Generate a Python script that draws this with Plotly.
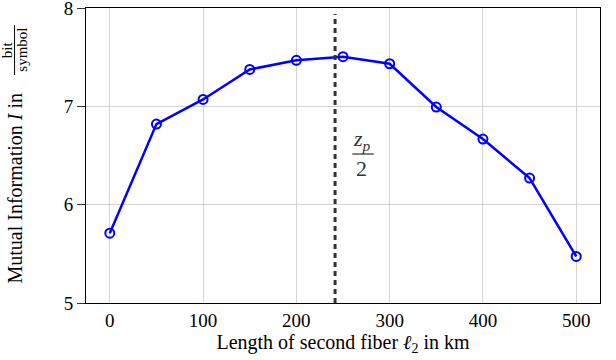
import plotly.graph_objects as go

# fiber length l2 in km and mutual information in bit/symbol
length_km = [0, 50, 100, 150, 200, 250, 300, 350, 400, 450, 500]
mutual_info = [5.71, 6.82, 7.07, 7.375, 7.468, 7.505, 7.433, 6.993, 6.667, 6.27, 5.474]

zp_half = 241.5  # position of the dashed marker z_p/2

x_ticks = [0, 100, 200, 300, 400, 500]
y_ticks = [5, 6, 7, 8]

FONT = "Liberation Serif"

fig = go.Figure()

fig.add_trace(go.Scatter(
    x=length_km, y=mutual_info,
    mode="lines+markers",
    line=dict(color="#0000ff", width=2.5),
    marker=dict(symbol="circle-open", size=9, color="#0000ff", line=dict(width=2, color="#0000ff")),
    showlegend=False,
))

# dashed vertical line at z_p/2
fig.add_shape(type="line", x0=zp_half, x1=zp_half, y0=5, y1=7.94,
              line=dict(color="#333333", width=3, dash="5px,4px"))

# z_p / 2 label as a stacked fraction
fig.add_annotation(x=270, y=6.66, text="<i>z<sub>p</sub></i>", showarrow=False,
                   font=dict(family=FONT, size=22, color="#333333"))
fig.add_shape(type="line", x0=260, x1=283, y0=6.515, y1=6.515,
              line=dict(color="#333333", width=1.2))
fig.add_annotation(x=270, y=6.37, text="2", showarrow=False,
                   font=dict(family=FONT, size=22, color="#333333"))

# y axis title: "Mutual Information I in bit/symbol" with a stacked fraction
fig.add_annotation(xref="paper", yref="paper", x=-0.139, y=0.39,
                   text="Mutual Information <i>I</i> in", textangle=-90, showarrow=False,
                   xanchor="center", yanchor="middle",
                   font=dict(family=FONT, size=20, color="black"))
fig.add_annotation(xref="paper", yref="paper", x=-0.153, y=0.858,
                   text="bit", textangle=-90, showarrow=False,
                   xanchor="center", yanchor="middle",
                   font=dict(family=FONT, size=15, color="black"))
fig.add_annotation(xref="paper", yref="paper", x=-0.125, y=0.858,
                   text="symbol", textangle=-90, showarrow=False,
                   xanchor="center", yanchor="middle",
                   font=dict(family=FONT, size=15, color="black"))
fig.add_shape(type="line", xref="paper", yref="paper", x0=-0.139, x1=-0.139, y0=0.773, y1=0.942,
              line=dict(color="black", width=1))

fig.update_layout(
    width=616, height=360,
    margin=dict(l=85.5, r=15.5, t=8, b=57, autoexpand=False),
    plot_bgcolor="white", paper_bgcolor="white",
    font=dict(family=FONT, size=19, color="black"),
    xaxis=dict(
        range=[-25.5, 525.5], tickvals=x_ticks, automargin=False,
        showgrid=True, gridcolor="#d3d3d3", gridwidth=1,
        showline=True, linecolor="black", linewidth=1, mirror=True,
        ticks="", zeroline=False, ticklabeloverflow="allow",
        title=dict(text="Length of second fiber <i>ℓ</i><sub>2</sub> in km", standoff=2,
                   font=dict(family=FONT, size=20)),
    ),
    yaxis=dict(
        range=[5, 8], tickvals=y_ticks, automargin=False,
        showgrid=True, gridcolor="#d3d3d3", gridwidth=1,
        showline=True, linecolor="black", linewidth=1, mirror=True,
        ticks="outside", ticklen=8, tickcolor="#333333", zeroline=False,
        ticklabeloverflow="allow",
    ),
)

# the page body has a default 8px margin; drop it so the figure sits at the window's corner
fig.write_html("out.html", config={"displayModeBar": False},
               post_script="document.body.style.margin='0';")
